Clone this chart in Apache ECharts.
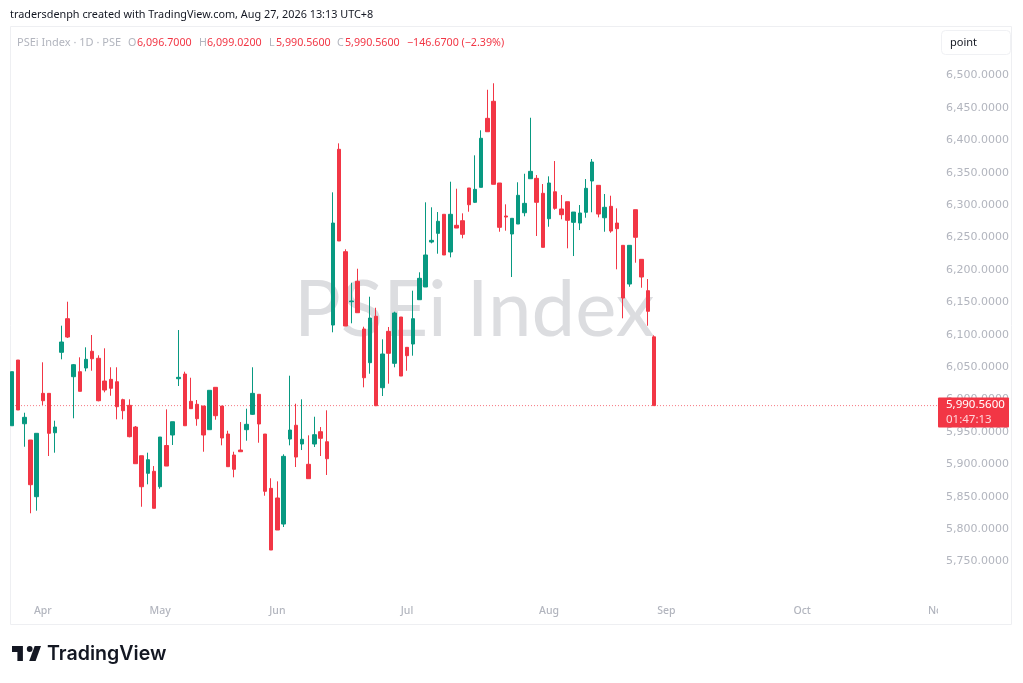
<!DOCTYPE html>
<html><head><meta charset="utf-8">
<style>html,body{margin:0;padding:0;background:#fff}#c{width:1023px;height:683px}</style>
<script src="https://cdn.jsdelivr.net/npm/echarts@6/dist/echarts.min.js"></script>
</head><body><div id="c"></div>
<script>
const opens=[5959.5,6060.9,5962.6,5937.5,5850,6009.5,6009.5,5948.7,6072.8,6124.7,
6035.2,6042.9,6048.6,6074.4,6063.6,6028.5,6031.1,6027.4,5999.7,5991,
5957.5,5913.2,5886.1,5889.2,5865.4,5929,5945.2,6032.1,6039.3,5997.2,
5992.6,5989.9,5953.4,6018.8,5989.9,5946.7,5914.3,5922,5953.4,5977.1,
6008,5946.7,5862.9,5848,5807.8,5939,5960.2,5931.3,5900,5931.3,
5950.3,5934.8,6114.9,6386.1,6228.1,6150.9,6182.4,6108.8,6056.8,6128.4,
6018.2,6105.2,6055.8,6127.3,6080.5,6085.6,6154,6173.6,6243,6256.4,
6285.8,6227.6,6268.8,6275.9,6326.4,6304.3,6327.4,6433.9,6460.2,6334.1,
6283.2,6255.4,6270.8,6288.2,6340.7,6341.3,6318.2,6279,6320.6,6294,
6305.2,6273.4,6272.3,6288.9,6337.2,6330.5,6280.5,6298.1,6272.3,6237.9,
6178.2,6292.9,6216.3,6167.9,6096.7];
const closes=[6042.9,5983.8,5972.5,5868.5,5947.8,5998.1,5947.8,5957.5,6088.7,6096.4,
6053.7,6012.6,6062,6062.9,5998.1,6014.6,6017.3,5988.9,5982.7,5942.6,
5900.9,5865.4,5907.1,5832.1,5942.1,5897.3,5965.7,6034.2,5959.5,5985.8,
5970.3,5945.2,6014.2,5975,5940.6,5896.3,5892.3,5919.4,5961.7,6009.5,
5962.2,5858.3,5767.7,5798.6,5912.3,5952.9,5911.2,5938.6,5877.8,5945.7,
5940.1,5908.6,6272.3,6244.6,6113.4,6152,6133.9,6033.6,6125.7,5990.4,
6070.2,6071.3,6133.5,6036.2,6067.6,6124.7,6187,6223,6245.6,6275,
6223,6285.8,6264.6,6254.9,6300.6,6324.3,6403.1,6413.2,6332.1,6265.7,
6281.6,6279.6,6315.1,6302.7,6352.1,6304.3,6234.8,6334.1,6295,6285.2,
6276.5,6289.3,6287.8,6325.9,6366.5,6286.2,6296.6,6260,6263.6,6156.6,
6237.9,6250.3,6189,6136.1,5990.56];
const highs=[6042.9,6060.9,5979.6,5937.5,5947.8,6057.4,6009.5,5967.3,6113.9,6150.9,
6054.8,6065.1,6080.5,6099.5,6068.2,6079,6049.7,6049.7,6001.2,6000.3,
5959.1,5913.2,5917.9,5897.3,5942.1,5984.8,5965.7,6107.2,6042.9,6033.6,
5999.2,5989.9,6014.2,6018.8,5989.9,5951.8,5919.4,5965.2,5985.8,6049.7,
6008,5946.7,5878.4,5873.7,5915.4,6036.7,5993.5,6000.3,5944.7,5973.4,
5957.5,5983.3,6319.7,6395.3,6231.8,6180.2,6201.8,6112.3,6158.6,6141.6,
6092.9,6111.9,6135.5,6127.3,6080.5,6167.9,6196.3,6304.3,6296.6,6289.3,
6285.8,6336.1,6325.3,6287.3,6326.4,6376.8,6415.4,6478,6488,6334.1,
6301.2,6279.6,6335.2,6348.4,6434.8,6346.4,6332.5,6344.4,6368,6315.6,
6305.2,6289.3,6300.1,6340.2,6371.1,6330.5,6317.1,6314.5,6295,6237.9,
6237.9,6292.9,6216.3,6185.9,6099.02];
const lows=[5959.5,5983.8,5927.1,5824.4,5828.4,5991.5,5912.8,5917.9,6062,6094.9,
5971,6012.6,6043.5,6044.4,5997.2,6011.1,6005.8,5969.4,5969.4,5941.6,
5900.9,5834.5,5869.1,5832.1,5862.3,5897.3,5929.8,6020.8,5959.5,5985.8,
5959.5,5919.4,5953.4,5968.8,5929.3,5896.3,5879.9,5919.4,5936.4,5976.1,
5933.3,5851.5,5767.7,5798.6,5803.2,5929.3,5895.8,5922,5877.8,5926.7,
5912.8,5883.5,6103.7,6244.6,6113.4,6117.6,6133.9,6018.8,6039.8,5990.4,
6005.4,6024.4,6049.7,6036.2,6044.4,6067.6,6154,6173.6,6241,6225,
6223,6219.4,6264.6,6248.7,6289.8,6303.2,6327.4,6413.2,6332.1,6258.9,
6260.5,6189,6270.8,6282.7,6340.7,6252.3,6234.8,6266.6,6292.9,6278.1,
6233.3,6221.4,6261.5,6280.5,6288.9,6281.1,6258.9,6257.4,6200.9,6125.3,
6174,6211.1,6172.5,6113.9,5990.56];
const monthLabels=['Apr','May','Jun','Jul','Aug','Sep','Oct','Nov'];
const monthIndex=[5,24,43,64,87,106,128,150];
const barCount=151;
const lastClose=5990.56;
const lastTimer='01:47:13';

const UP='#089981',DOWN='#f23645',GREY='#b2b5be',FONT='"Noto Sans"',PRICEFONT='"DejaVu Sans"';
const categories=Array.from({length:barCount},(_,i)=>{const k=monthIndex.indexOf(i);return k>=0?monthLabels[k]:'';});
const candles=opens.map((o,i)=>[o,closes[i],lows[i],highs[i]]);
const fmt=v=>v.toLocaleString('en-US',{minimumFractionDigits:4,maximumFractionDigits:4});
const txt=(x,y,t,fill,size,extra)=>Object.assign({type:'text',x,y,silent:true,z:20,style:{text:t,fill,font:`${size||12}px ${FONT}`,textVerticalAlign:'middle'}},extra||{});
const logo='#131722';

const chart=echarts.init(document.getElementById('c'),null,{renderer:'canvas'});
const staticGraphics=[
 {type:'rect',z:-2,silent:true,shape:{x:10.5,y:26.5,width:1001,height:598},style:{fill:'#fff',stroke:'#eeeff2',lineWidth:1}},
 {type:'text',z:-1,silent:true,x:294,y:311,style:{text:'PSEi Index',fill:'#dcdde0',font:`78px Lato`,textVerticalAlign:'middle'}},
 {type:'rect',z:15,silent:true,shape:{x:938,y:601,width:22,height:22},style:{fill:'#fff'}},
 txt(10,15,'tradersdenph created with TradingView.com, Aug 27, 2026 13:13 UTC+8','#131722',10.85),
 txt(17,42.5,'PSEi Index · 1D · PSE',GREY,11),
 txt(128,42.5,'O',GREY,10.7),txt(137,42.5,'6,096.7000',DOWN,10.7),
 txt(199,42.5,'H',GREY,10.7),txt(207,42.5,'6,099.0200',DOWN,10.7),
 txt(269,42.5,'L',GREY,10.7),txt(276,42.5,'5,990.5600',DOWN,10.7),
 txt(337,42.5,'C',GREY,10.7),txt(345,42.5,'5,990.5600',DOWN,10.7),
 txt(407,42.5,'−146.6700 (−2.39%)',DOWN,10.7),
 {type:'rect',z:20,silent:true,shape:{x:941.5,y:30.5,width:69,height:24,r:4},style:{fill:'#fff',stroke:'#f0f1f4',lineWidth:1}},
 txt(950,42.5,'point','#131722',11),
 {type:'polygon',z:20,silent:true,shape:{points:[[12,646],[22.9,646],[22.9,661],[17.4,661],[17.4,652],[12,652]]},style:{fill:logo}},
 {type:'polygon',z:20,silent:true,shape:{points:[[35.6,661],[29.2,661],[34.7,646],[41,646]]},style:{fill:logo}},
 {type:'circle',z:20,silent:true,shape:{cx:29.7,cy:649,r:2.9},style:{fill:logo}},
 {type:'text',z:20,silent:true,x:47,y:654,style:{text:'TradingView',fill:logo,font:'600 19.6px Inter',textVerticalAlign:'middle'}}
];
chart.setOption({
 animation:false,
 backgroundColor:'#fff',
 grid:{left:8.9,width:932.1,top:10.7,height:615.6,containLabel:false},
 xAxis:{type:'category',data:categories,boundaryGap:true,
  axisLine:{show:false},axisTick:{show:false},splitLine:{show:false},
  axisLabel:{inside:true,margin:10,color:GREY,fontFamily:FONT,fontSize:10.5,fontWeight:500,
   interval:(i,v)=>v!==''}},
 yAxis:{type:'value',position:'right',min:5650,max:6600,interval:50,scale:true,
  axisLine:{show:false},axisTick:{show:false},splitLine:{show:false},
  axisLabel:{margin:5,color:GREY,fontFamily:PRICEFONT,fontSize:11,padding:[2,0,0,0],
   formatter:v=>(v<5750||v>6500)?'':fmt(v)}},
 series:[
  {type:'line',data:categories.map(()=>lastClose),showSymbol:false,silent:true,z:2,
   lineStyle:{color:DOWN,type:[1,2],width:1,opacity:.7}},
  {type:'candlestick',data:candles,barWidth:4,z:3,
   itemStyle:{color:UP,color0:DOWN,borderColor:UP,borderColor0:DOWN,borderWidth:1}}],
 graphic:staticGraphics
});
const tagY=chart.convertToPixel({yAxisIndex:0},lastClose);
chart.setOption({graphic:staticGraphics.concat([
 {type:'rect',z:25,silent:true,shape:{x:938,y:tagY-8,width:71,height:30,r:1},style:{fill:DOWN}},
 Object.assign(txt(946,tagY-0.5,fmt(lastClose),'#fff',11.5),{z:26}),
 Object.assign(txt(946,tagY+14,lastTimer,'#ffd5d9',11.5),{z:26})
])});
</script></body></html>
